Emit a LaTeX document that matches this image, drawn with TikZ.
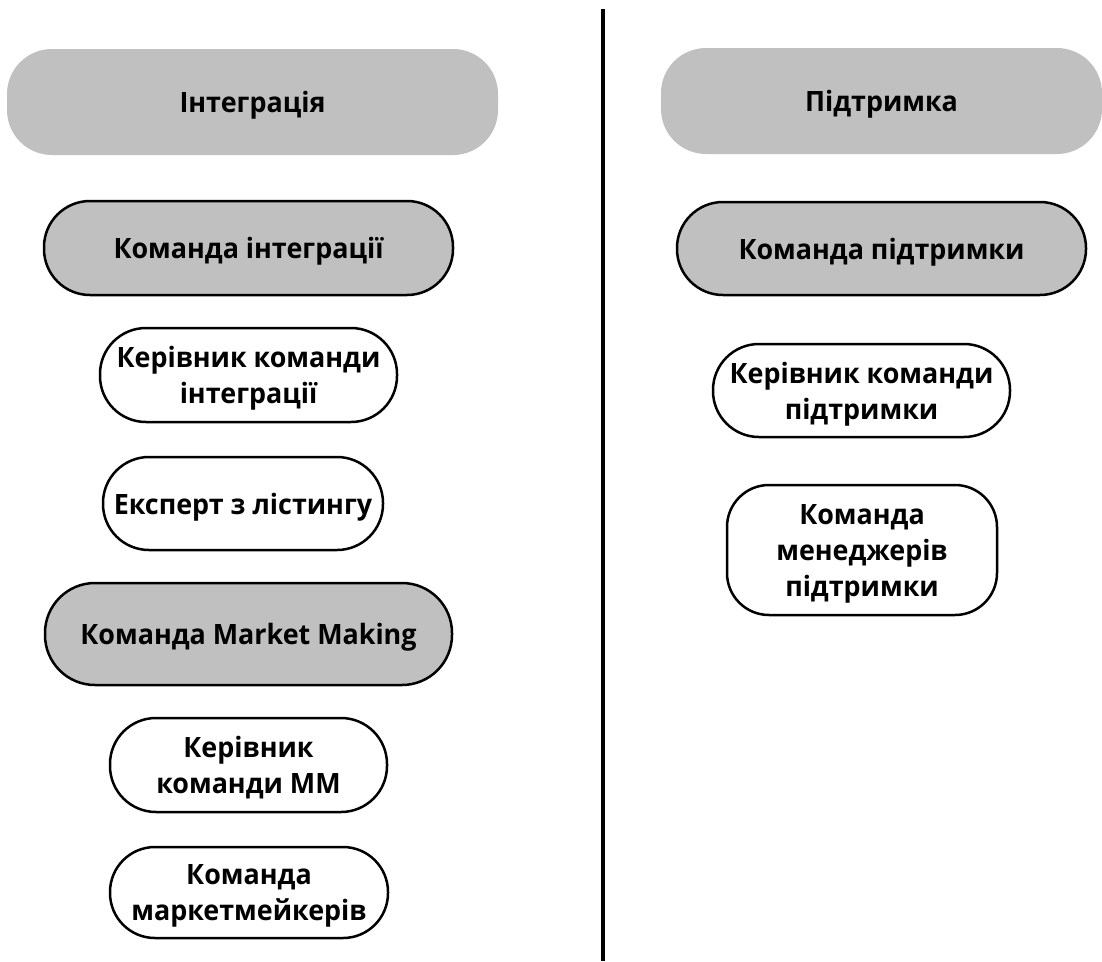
\documentclass[tikz,border=0pt]{standalone}
\usepackage{fontspec}
\setmainfont{Open Sans}[FakeStretch=0.96]
\definecolor{boxgray}{HTML}{C0C0C0}
\begin{document}
\begin{tikzpicture}[x=1pt,y=-1pt,
  every node/.style={font=\fontsize{28}{36}\selectfont\bfseries, align=center, inner sep=0pt, rectangle, text depth=0pt},
  head/.style={fill=boxgray, rounded corners=45pt},
  team/.style={fill=boxgray, draw=black, line width=2.5pt, rounded corners=46pt},
  role/.style={fill=white, draw=black, line width=2.5pt, rounded corners=46pt},
  divider/.style={line width=4pt, black}]
\useasboundingbox (0,0) rectangle (1102,961);
\node[head, minimum width=491pt, minimum height=106pt] (int) at (252.5,102) {Інтеграція};
\node[head, minimum width=441pt, minimum height=106pt] (sup) at (881.5,101) {Підтримка};
\node[team, minimum width=409pt, minimum height=94pt] (kint) at (248.5,248) {Команда інтеграції};
\node[team, minimum width=409pt, minimum height=93pt] (ksup) at (881.5,248.5) {Команда підтримки};
\node[role, minimum width=297pt, minimum height=94pt] (lead1) at (248.5,375) {Керівник команди\\інтеграції};
\node[role, minimum width=280pt, minimum height=93pt] (exp) at (243,503.5) {Експерт з лістингу};
\node[team, minimum width=407pt, minimum height=102pt, rounded corners=50pt] (mm) at (248.5,634) {Команда Market Making};
\node[role, minimum width=277pt, minimum height=94pt] (leadmm) at (248.5,765) {Керівник\\команди ММ};
\node[role, minimum width=278pt, minimum height=91pt, rounded corners=45pt] (mmteam) at (249,892.5) {Команда\\маркетмейкерів};
\node[role, minimum width=297pt, minimum height=93pt] (lead2) at (861.5,390.5) {Керівник команди\\підтримки};
\node[role, minimum width=270pt, minimum height=130pt, rounded corners=42pt] (mgr) at (862,550) {Команда\\менеджерів\\підтримки};
\coordinate (dtop) at (603,9);
\coordinate (dbot) at (603,961);
\draw[divider] (dtop) -- (dbot);
\end{tikzpicture}
\end{document}
